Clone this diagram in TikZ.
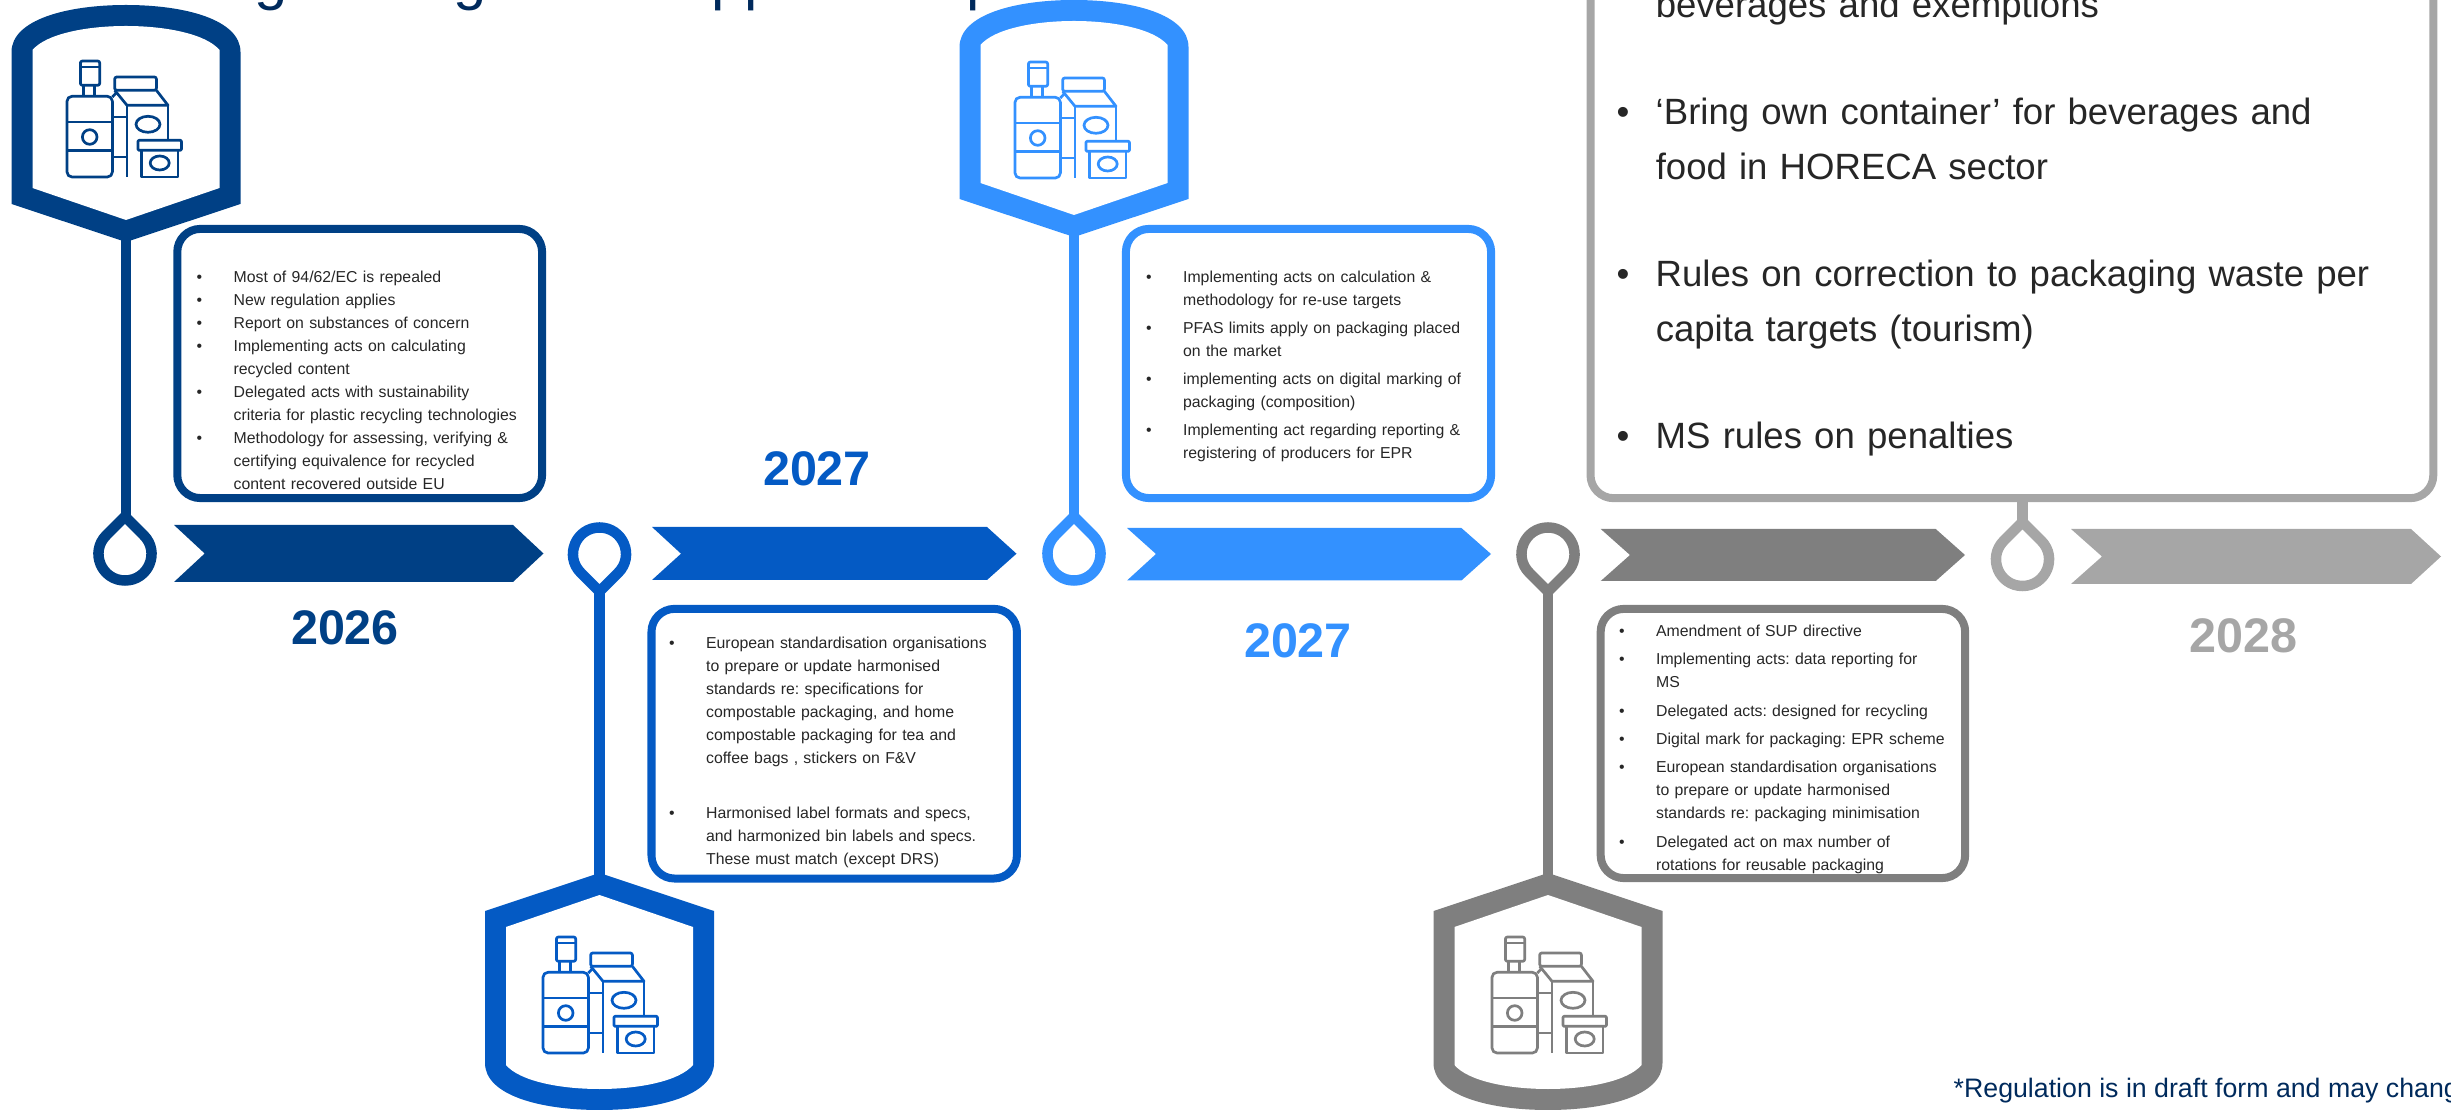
\documentclass[tikz,border=0pt]{standalone}
\usepackage{fontspec}
\setmainfont{Liberation Sans}
\frenchspacing
\definecolor{tone1}{HTML}{004085}
\definecolor{tone2}{HTML}{045AC4}
\definecolor{tone3}{HTML}{3391FF}
\definecolor{tone4}{HTML}{7F7F7F}
\definecolor{tone5}{HTML}{A6A6A6}
\definecolor{ink}{HTML}{262626}
\definecolor{navy}{HTML}{002A5C}
\newlength{\itmgap}
\newlength{\itmhang}
\newcommand{\itm}[1]{\hangindent=\itmhang\hangafter=1\noindent\makebox[\itmhang][l]{\textbullet}#1\par\vspace{\itmgap}}
\tikzset{
    pics/badge/.style={code={
        \fill[pic actions] (0,0) -- (114.5,-38) -- (114.5,-190) .. controls (114.5,-222) and (60,-237) .. (0,-237)
            .. controls (-60,-237) and (-114.5,-222) .. (-114.5,-190) -- (-114.5,-38) -- cycle;
        \fill[white] (0,-22) -- (93.5,-54) -- (93.5,-192) .. controls (80,-208) and (40,-216) .. (0,-216)
            .. controls (-40,-216) and (-80,-208) .. (-93.5,-192) -- (-93.5,-54) -- cycle;
    }},
    pics/drop/.style={code={
        \draw[pic actions,line width=0.105cm,fill=none] (0,-37.5) -- (18.74,-18.74) .. controls (35.44,-2.04) and (23.6,26.5) .. (0,26.5)
            .. controls (-23.6,26.5) and (-35.44,-2.04) .. (-18.74,-18.74) -- cycle;
    }},
    pics/packs/.style={code={
        \begin{scope}[line width=0.027cm,line join=round]
        \draw[pic actions,rounded corners=0.05cm] (0,0) -- (0,-80.7) -- (45.4,-80.7) -- (45.4,0) -- cycle;
        \draw[pic actions] (0,-55) -- (45.4,-55) (0,-26.7) -- (45.4,-26.7);
        \draw[pic actions] (22.7,-40) circle[radius=7.3];
        \draw[pic actions] (16.7,-80.7) -- (16.7,-91.7) (27.7,-80.7) -- (27.7,-91.7);
        \draw[pic actions,rounded corners=0.02cm] (13.4,-91.7) rectangle (32.7,-116);
        \draw[pic actions] (13.4,-110) -- (32.7,-110);
        \draw[pic actions,rounded corners=0.02cm] (47.7,-86.7) rectangle (89.4,-100);
        \draw[pic actions] (47.7,-86.7) -- (60,-71.7) -- (101,-71.7) -- (89.4,-86.7);
        \draw[pic actions] (60,-71.7) -- (60,0) (101,-71.7) -- (101,-36.7);
        \draw[pic actions] (45.4,-80) -- (50,-85);
        \draw[pic actions] (45.4,-60) -- (60,-60) (45.4,-20) -- (60,-20);
        \draw[pic actions] (81,-52.7) ellipse[x radius=12,y radius=8];
        \draw[pic actions,rounded corners=0.01cm] (71,-26.7) rectangle (114.4,-36.7);
        \draw[pic actions] (74.4,-26.7) -- (74.4,0) -- (111,0) -- (111,-26.7);
        \draw[pic actions] (92.7,-14) ellipse[x radius=9.5,y radius=7];
        \end{scope}
    }},
    stem/.style={line width=0.105cm,shorten <=-0.03cm},
    infobox/.style={draw,line width=0.08cm,rounded corners=0.23cm},
    smalltext/.style={anchor=base west,inner sep=0pt,text width=3.6cm,text=ink,font=\fontsize{4.5}{6.54}\selectfont},
    bigtext/.style={anchor=base west,inner sep=0pt,text width=8.3cm,text=ink,font=\fontsize{10.4}{15.65}\selectfont},
    yeartext/.style={inner sep=0pt,font=\fontsize{13.8}{16}\selectfont\bfseries},
    headtext/.style={anchor=base west,inner sep=0pt,text=navy,font=\fontsize{17}{20}\selectfont},
}
\begin{document}
\begin{tikzpicture}[x=0.01cm,y=-0.01cm]
\useasboundingbox (0,0) rectangle (2451,1110);
\clip (0,0) rectangle (2451,1110);

% what is left of the heading
\node[headtext] (head1) at (254,-1.8) {g};
\node[headtext] (head2) at (453,-1.8) {g};
\node[headtext] (head3) at (711,-1.8) {pp};
\node[headtext] (head4) at (966,-1.8) {p};

\coordinate (tip1) at (126,242);
\coordinate (tip2) at (599.5,873);
\coordinate (tip3) at (1074,237);
\coordinate (tip4) at (1548,873);

\coordinate (drop1) at (125,554);
\coordinate (drop2) at (599.5,554);
\coordinate (drop3) at (1074,554);
\coordinate (drop4) at (1548,554);
\coordinate (drop5) at (2022.5,559.5);

\coordinate (apex1) at (126,516.5);
\coordinate (apex2) at (599.5,591.5);
\coordinate (apex3) at (1074,516.5);
\coordinate (apex4) at (1548,591.5);
\coordinate (apex5) at (2022.5,522);

\pic[fill=tone1] at (tip1) {badge};
\pic[fill=tone2,yscale=-1] at (tip2) {badge};
\pic[fill=tone3] at (tip3) {badge};
\pic[fill=tone4,yscale=-1] at (tip4) {badge};

\pic[draw=tone1] at (67,177) {packs};
\pic[draw=tone2] at (543,1053) {packs};
\pic[draw=tone3] at (1015,178) {packs};
\pic[draw=tone4] at (1492,1053) {packs};

\pic[draw=tone1] at (drop1) {drop};
\pic[draw=tone2,yscale=-1] at (drop2) {drop};
\pic[draw=tone3] at (drop3) {drop};
\pic[draw=tone4,yscale=-1] at (drop4) {drop};
\pic[draw=tone5] at (drop5) {drop};

\draw[stem,tone1] (tip1) -- (apex1);
\draw[stem,tone2] (tip2) -- (apex2);
\draw[stem,tone3] (tip3) -- (apex3);
\draw[stem,tone4] (tip4) -- (apex4);

% arrows of the time line
\fill[tone1] (174,525) -- (513,525) -- (543.5,553.5) -- (513,582) -- (174,582) -- (204.7,553.5) -- cycle;
\fill[tone2] (652,527) -- (987,527) -- (1016.5,553.7) -- (987,580) -- (652,580) -- (681,553.7) -- cycle;
\fill[tone3] (1127,528) -- (1461.4,528) -- (1491,554) -- (1461.4,580.5) -- (1127,580.5) -- (1156,554) -- cycle;
\fill[tone4] (1600.7,529) -- (1935.7,529) -- (1965,555) -- (1935.7,581) -- (1600.7,581) -- (1630,555) -- cycle;
\fill[tone5] (2071,529) -- (2411,529) -- (2441,556.5) -- (2411,584) -- (2071,584) -- (2102,556.5) -- cycle;

\begin{scope}[every node/.style={infobox}]
    \node[draw=tone1,minimum width=3.646cm,minimum height=2.69cm] (box1) at (359.7,363.5) {};
    \node[draw=tone2,minimum width=3.652cm,minimum height=2.695cm] (box2) at (834.2,743.7) {};
    \node[draw=tone3,minimum width=3.65cm,minimum height=2.69cm] (box3) at (1308.5,363.5) {};
    \node[draw=tone4,minimum width=3.643cm,minimum height=2.69cm] (box4) at (1782.9,743.5) {};
    \node[draw=tone5,minimum width=8.423cm,minimum height=6cm] (box5) at (2011.9,198) {};
\end{scope}

\draw[stem,tone5,shorten <=0pt] (box5.south -| apex5) -- (apex5);

\node[smalltext] (text1) at (196,282.7) {\setlength{\itmgap}{0pt}\setlength{\itmhang}{10.5pt}%
    \itm{Most of 94/62/EC is repealed}
    \itm{New regulation applies}
    \itm{Report on substances of concern}
    \itm{Implementing acts on calculating\newline recycled content}
    \itm{Delegated acts with sustainability\newline criteria for plastic recycling technologies}
    \itm{Methodology for assessing, verifying \&\newline certifying equivalence for recycled\newline content recovered outside EU}};
\node[smalltext] (text2) at (668.5,648.5) {\setlength{\itmgap}{9.1pt}\setlength{\itmhang}{10.5pt}%
    \itm{European standardisation organisations\newline to prepare or update harmonised\newline standards re: specifications for\newline compostable packaging, and home\newline compostable packaging for tea and\newline coffee bags , stickers on F\&V}
    \itm{Harmonised label formats and specs,\newline and harmonized bin labels and specs.\newline These must match (except DRS)}};
\node[smalltext] (text3) at (1145.5,282.7) {\setlength{\itmgap}{1.42pt}\setlength{\itmhang}{10.5pt}%
    \itm{Implementing acts on calculation \&\newline methodology for re-use targets}
    \itm{PFAS limits apply on packaging placed\newline on the market}
    \itm{implementing acts on digital marking of\newline packaging (composition)}
    \itm{Implementing act regarding reporting \&\newline registering of producers for EPR}};
\node[smalltext] (text4) at (1618.5,636.7) {\setlength{\itmgap}{1.5pt}\setlength{\itmhang}{10.5pt}%
    \itm{Amendment of SUP directive}
    \itm{Implementing acts: data reporting for\newline MS}
    \itm{Delegated acts: designed for recycling}
    \itm{Digital mark for packaging: EPR scheme}
    \itm{European standardisation organisations\newline to prepare or update harmonised\newline standards re: packaging minimisation}
    \itm{Delegated act on max number of\newline rotations for reusable packaging}};
\node[bigtext] (text5) at (1616,17.5) {\setlength{\itmgap}{14.8pt}\setlength{\itmhang}{11.1pt}%
    \hspace*{\itmhang}beverages and exemptions\par\vspace{\itmgap}
    \itm{‘Bring own container’ for beverages and\newline food in HORECA sector}
    \itm{Rules on correction to packaging waste per\newline capita targets (tourism)}
    \itm{MS rules on penalties}};

\node[yeartext,text=tone1] (year1) at (345,628) {2026};
\node[yeartext,text=tone2] (year2) at (817,469) {2027};
\node[yeartext,text=tone3] (year3) at (1298,641) {2027};
\node[yeartext,text=tone5] (year4) at (2243.5,636) {2028};

\node[anchor=base west,inner sep=0pt,text=navy,font=\fontsize{7.6}{10}\selectfont] (note) at (1953,1097) {*Regulation is in draft form and may chang};

\end{tikzpicture}
\end{document}
